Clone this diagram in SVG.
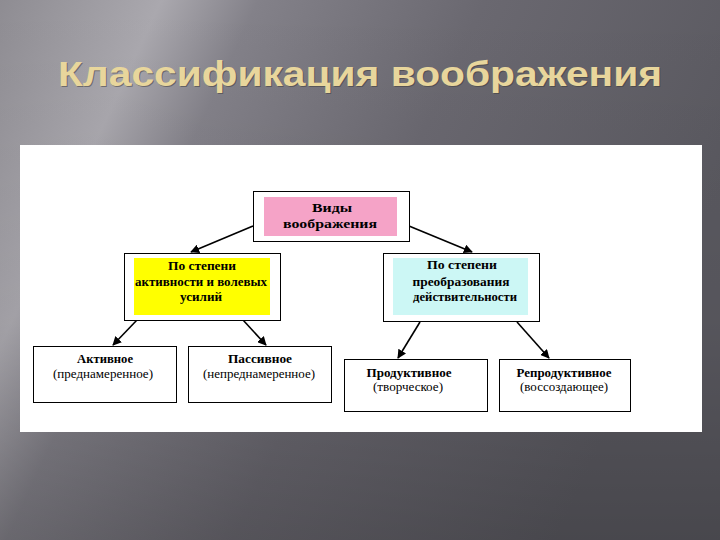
<svg xmlns="http://www.w3.org/2000/svg" width="720" height="540" viewBox="0 0 720 540">
<defs>
<linearGradient id="bg" x1="0" y1="0" x2="1" y2="0.35">
<stop offset="0" stop-color="#8e8c92"/>
<stop offset="0.2" stop-color="#aaa8ae"/>
<stop offset="0.32" stop-color="#838189"/>
<stop offset="0.6" stop-color="#6a6870"/>
<stop offset="1" stop-color="#5a5960"/>
</linearGradient>
<linearGradient id="bg2" x1="0" y1="0" x2="0" y2="1">
<stop offset="0" stop-color="#000" stop-opacity="0"/>
<stop offset="0.6" stop-color="#000" stop-opacity="0.05"/>
<stop offset="1" stop-color="#000" stop-opacity="0.2"/>
</linearGradient>
<marker id="ah" viewBox="0 0 10 10" refX="9" refY="5" markerWidth="9" markerHeight="9" markerUnits="userSpaceOnUse" orient="auto">
<path d="M0,0 L10,5 L0,10 z" fill="#000"/>
</marker>
<style>
.box{fill:#fff;stroke:#000;stroke-width:1}
.t{font-family:"Liberation Serif","Times New Roman",serif;font-size:12.5px;fill:#000;text-anchor:middle}
.b{font-weight:bold}
.c{stroke:#000;stroke-width:1.6;fill:none;marker-end:url(#ah)}
</style>
</defs>
<rect width="720" height="540" fill="url(#bg)"/>
<rect width="720" height="540" fill="url(#bg2)"/>
<text x="361" y="87" font-family="Liberation Sans,Arial,sans-serif" font-weight="bold" font-size="35" fill="#3a3838" fill-opacity="0.5" text-anchor="middle" textLength="604" lengthAdjust="spacingAndGlyphs">Классификация воображения</text>
<text x="360" y="86" font-family="Liberation Sans,Arial,sans-serif" font-weight="bold" font-size="35" fill="#e8d69c" text-anchor="middle" textLength="604" lengthAdjust="spacingAndGlyphs">Классификация воображения</text>
<rect x="20" y="145" width="682" height="287" fill="#fff"/>
<g id="connectors">
<line class="c" x1="253" y1="226" x2="191" y2="252"/>
<line class="c" x1="409" y1="226" x2="472" y2="252"/>
<line class="c" x1="137" y1="320" x2="113" y2="345"/>
<line class="c" x1="243" y1="320" x2="266" y2="345"/>
<line class="c" x1="420" y1="322" x2="398" y2="358"/>
<line class="c" x1="517" y1="322" x2="549" y2="358"/>
</g>
<g id="n-root">
<rect class="box" x="253.5" y="191.5" width="156" height="50"/>
<rect x="264" y="197" width="133" height="39" fill="#f5a3c7"/>
<text class="t b" x="332" y="212" font-size="14" textLength="40" lengthAdjust="spacingAndGlyphs">Виды</text>
<text class="t b" x="330" y="228" font-size="14" textLength="94" lengthAdjust="spacingAndGlyphs">воображения</text>
</g>
<g id="n-volition">
<rect class="box" x="124.5" y="253.5" width="156" height="67"/>
<rect x="134" y="258" width="136" height="57" fill="#ffff00"/>
<text class="t b" x="202" y="270" font-size="11.5" textLength="68" lengthAdjust="spacingAndGlyphs">По степени</text>
<text class="t b" x="201" y="286" font-size="11.5" textLength="132" lengthAdjust="spacingAndGlyphs">активности и волевых</text>
<text class="t b" x="201" y="301" font-size="11.5" textLength="42" lengthAdjust="spacingAndGlyphs">усилий</text>
</g>
<g id="n-transform">
<rect class="box" x="383.5" y="253.5" width="156" height="68"/>
<rect x="393" y="258" width="135" height="57" fill="#ccf7f5"/>
<text class="t b" x="462" y="269" font-size="11.5" textLength="70" lengthAdjust="spacingAndGlyphs">По степени</text>
<text class="t b" x="461" y="286" font-size="11.5" textLength="97" lengthAdjust="spacingAndGlyphs">преобразования</text>
<text class="t b" x="465" y="301" font-size="11.5" textLength="104" lengthAdjust="spacingAndGlyphs">действительности</text>
</g>
<g id="n-active">
<rect class="box" x="33.5" y="346.5" width="143" height="56"/>
<text class="t b" x="105" y="363" textLength="56" lengthAdjust="spacingAndGlyphs">Активное</text>
<text class="t" x="103" y="378" textLength="100" lengthAdjust="spacingAndGlyphs">(преднамеренное)</text>
</g>
<g id="n-passive">
<rect class="box" x="188.5" y="346.5" width="143" height="56"/>
<text class="t b" x="260" y="363" textLength="64" lengthAdjust="spacingAndGlyphs">Пассивное</text>
<text class="t" x="259" y="378" textLength="112" lengthAdjust="spacingAndGlyphs">(непреднамеренное)</text>
</g>
<g id="n-productive">
<rect class="box" x="344.5" y="359.5" width="143" height="52"/>
<text class="t b" x="409" y="377" textLength="85" lengthAdjust="spacingAndGlyphs">Продуктивное</text>
<text class="t" x="408" y="391" textLength="70" lengthAdjust="spacingAndGlyphs">(творческое)</text>
</g>
<g id="n-reproductive">
<rect class="box" x="499.5" y="359.5" width="131" height="52"/>
<text class="t b" x="564" y="377" textLength="95" lengthAdjust="spacingAndGlyphs">Репродуктивное</text>
<text class="t" x="564" y="391" textLength="88" lengthAdjust="spacingAndGlyphs">(воссоздающее)</text>
</g>
</svg>
